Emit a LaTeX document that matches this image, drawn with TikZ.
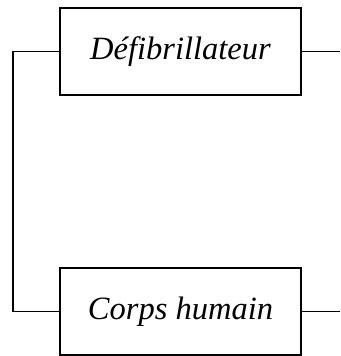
\documentclass[tikz,border=0pt]{standalone}
\usepackage{fontspec}
\setmainfont{Liberation Serif}
\begin{document}
\begin{tikzpicture}[x=1pt,y=-1pt,
  blockbox/.style={draw,line width=1.9pt,minimum width=241pt,minimum height=87pt,inner sep=0pt,font=\fontsize{32.5}{38}\selectfont\itshape},
  wire/.style={line width=1.9pt}]
\useasboundingbox (0,0) rectangle (340,356);
\node[blockbox] (def) at (180.5,51.5) {Défibrillateur};
\node[blockbox] (corps) at (180.5,311.5) {Corps humain};
\coordinate (lt) at (13,51.5);
\coordinate (lb) at (13,311.5);
\coordinate (rt) at (340,51.5);
\coordinate (rb) at (340,311.5);
\draw[wire] (def.west) -- (lt) -- (lb) -- (corps.west);
\draw[wire] (def.east) -- (rt);
\draw[wire] (corps.east) -- (rb);
\end{tikzpicture}
\end{document}
